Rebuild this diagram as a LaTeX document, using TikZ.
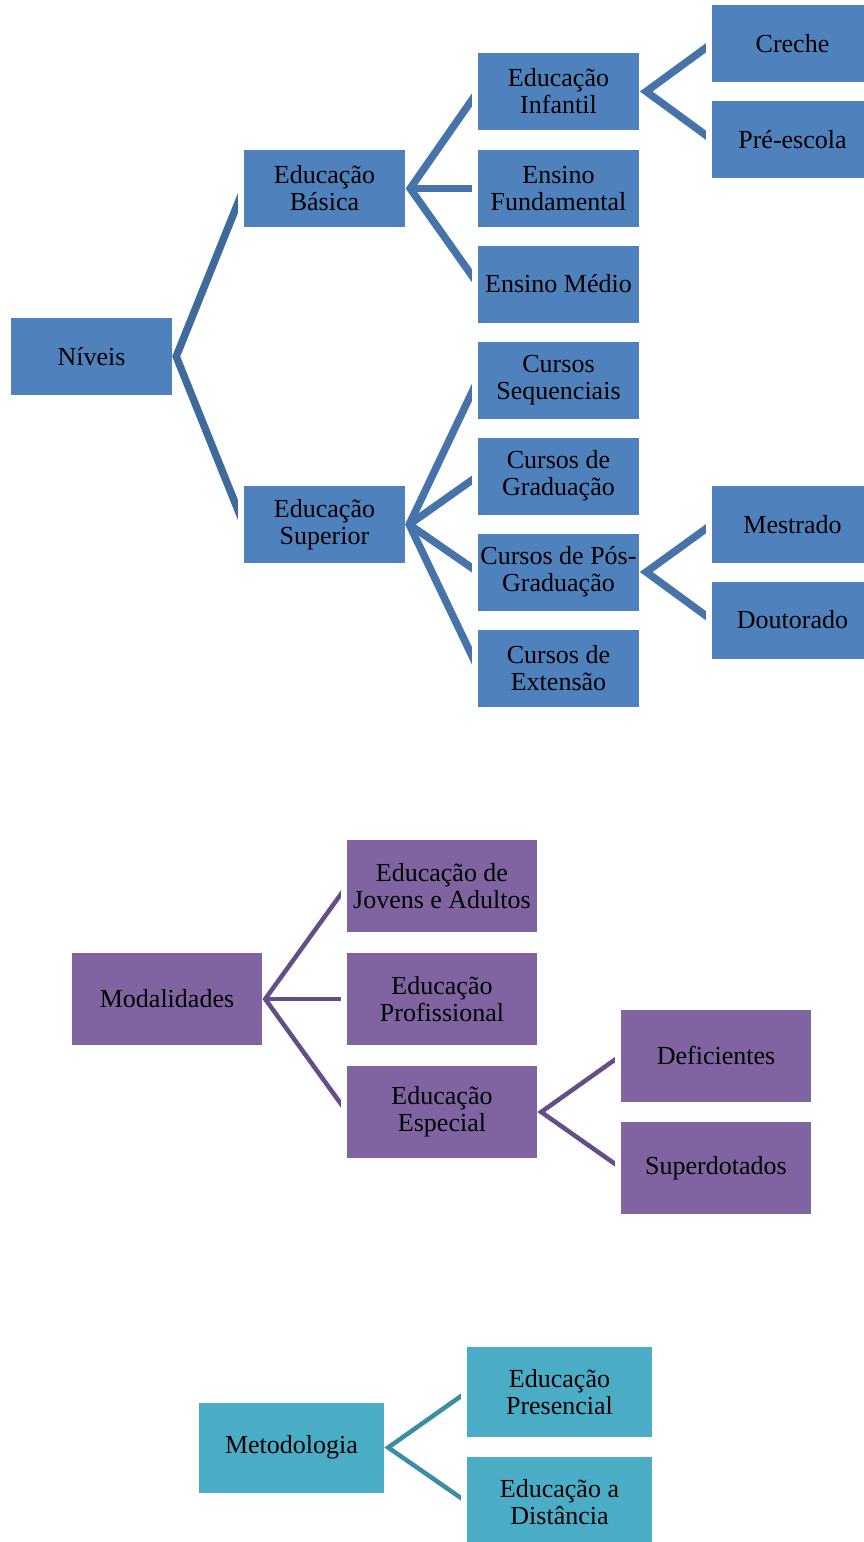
\documentclass[tikz,border=0pt]{standalone}
\usepackage{fontspec}
\setmainfont{Liberation Serif}
\usetikzlibrary{calc}
\definecolor{azul}{HTML}{4F81BD}
\definecolor{azulesc}{HTML}{4673AA}
\definecolor{azulraiz}{HTML}{3F6A9C}
\definecolor{roxo}{HTML}{8064A2}
\definecolor{roxoesc}{HTML}{654E86}
\definecolor{ciano}{HTML}{4BACC6}
\definecolor{cianoesc}{HTML}{3A8DA3}

\begin{document}
\begin{tikzpicture}[x=1pt, y=-1pt,
 caixa/.style={fill=#1, inner sep=0pt, align=center, font=\fontsize{26}{27}\selectfont},
 ramo/.style={draw=#1, line width=7.5pt, line join=miter}]
 \useasboundingbox (0,0) rectangle (864,1542);

 %Níveis
 \node [caixa=azul, minimum width=161pt, minimum height=77pt] (niv) at (91.5,356.5) {Níveis};
 \node [caixa=azul, minimum width=161pt, minimum height=77pt] (basica) at (324.5,188.5) {Educação\\Básica};
 \node [caixa=azul, minimum width=161pt, minimum height=77pt] (superior) at (324.5,524.5) {Educação\\Superior};
 \node [caixa=azul, minimum width=161pt, minimum height=77pt] (infantil) at (558.5,91.5) {Educação\\Infantil};
 \node [caixa=azul, minimum width=161pt, minimum height=77pt] (fundamental) at (558.5,188.5) {Ensino\\Fundamental};
 \node [caixa=azul, minimum width=161pt, minimum height=77pt] (medio) at (558.5,284) {Ensino Médio};
 \node [caixa=azul, minimum width=161pt, minimum height=77pt] (sequenciais) at (558.5,380) {Cursos\\Sequenciais};
 \node [caixa=azul, minimum width=161pt, minimum height=77pt] (graduacao) at (558.5,476) {Cursos de\\Graduação};
 \node [caixa=azul, minimum width=161pt, minimum height=77pt] (posgrad) at (558.5,572) {Cursos de Pós-\\Graduação};
 \node [caixa=azul, minimum width=161pt, minimum height=77pt] (extensao) at (558.5,668) {Cursos de\\Extensão};
 \node [caixa=azul, minimum width=161pt, minimum height=77pt] (creche) at (792.5,43.5) {Creche};
 \node [caixa=azul, minimum width=161pt, minimum height=77pt] (preescola) at (792.5,139.5) {Pré-escola};
 \node [caixa=azul, minimum width=161pt, minimum height=77pt] (mestrado) at (792.5,524.5) {Mestrado};
 \node [caixa=azul, minimum width=161pt, minimum height=77pt] (doutorado) at (792.5,620) {Doutorado};

 \begin{scope}
  \clip (niv.center |- 0,0) rectangle ([xshift=-6pt]basica.west |- 0,800);
  \draw [ramo=azulraiz] (basica.west) -- ([xshift=4pt]niv.east) -- (superior.west);
 \end{scope}
 \begin{scope}
  \clip (basica.center |- 0,0) rectangle ([xshift=-6pt]infantil.west |- 0,800);
  \draw [ramo=azulesc] (infantil.west) -- ([xshift=5pt]basica.east) -- (medio.west);
  \draw [ramo=azulesc] ([xshift=5pt]basica.east) -- (fundamental.west);
  \draw [ramo=azulesc] (sequenciais.west) -- ([xshift=4pt]superior.east) -- (extensao.west);
  \draw [ramo=azulesc] ([xshift=4pt]superior.east) -- (graduacao.west);
  \draw [ramo=azulesc] ([xshift=4pt]superior.east) -- (posgrad.west);
 \end{scope}
 \begin{scope}
  \clip (infantil.center |- 0,0) rectangle ([xshift=-6pt]creche.west |- 0,800);
  \draw [ramo=azulesc] (creche.west) -- ([xshift=7pt]infantil.east) -- (preescola.west);
  \draw [ramo=azulesc] (mestrado.west) -- ([xshift=7pt]posgrad.east) -- (doutorado.west);
 \end{scope}

 %Modalidades
 \node [caixa=roxo, minimum width=190pt, minimum height=92pt] (mod) at (167,999) {Modalidades};
 \node [caixa=roxo, minimum width=190pt, minimum height=92pt] (jovens) at (442,886) {Educação de\\Jovens e Adultos};
 \node [caixa=roxo, minimum width=190pt, minimum height=92pt] (profissional) at (442,999) {Educação\\Profissional};
 \node [caixa=roxo, minimum width=190pt, minimum height=92pt] (especial) at (442,1112) {Educação\\Especial};
 \node [caixa=roxo, minimum width=190pt, minimum height=92pt] (deficientes) at (716,1055.5) {Deficientes};
 \node [caixa=roxo, minimum width=190pt, minimum height=92pt] (superdotados) at (716,1168) {Superdotados};

 \begin{scope}
  \clip (mod.center |- 0,800) rectangle ([xshift=-6pt]jovens.west |- 0,1300);
  \draw [ramo=roxoesc, line width=4.5pt] (jovens.west) -- ([xshift=3pt]mod.east) -- (especial.west);
  \draw [ramo=roxoesc, line width=4.5pt] ([xshift=3pt]mod.east) -- (profissional.west);
 \end{scope}
 \begin{scope}
  \clip (especial.center |- 0,800) rectangle ([xshift=-6pt]deficientes.west |- 0,1300);
  \draw [ramo=roxoesc, line width=4.5pt] (deficientes.west) -- ([xshift=4pt]especial.east) -- (superdotados.west);
 \end{scope}

 %Metodologia
 \node [caixa=ciano, minimum width=185pt, minimum height=90pt] (met) at (291.5,1447.5) {Metodologia};
 \node [caixa=ciano, minimum width=185pt, minimum height=90pt] (presencial) at (559.5,1392) {Educação\\Presencial};
 \node [caixa=ciano, minimum width=185pt, minimum height=90pt] (distancia) at (559.5,1502) {Educação a\\Distância};

 \begin{scope}
  \clip (met.center |- 0,1300) rectangle ([xshift=-6pt]presencial.west |- 0,1542);
  \draw [ramo=cianoesc, line width=4.5pt] (presencial.west) -- ([xshift=4pt]met.east) -- (distancia.west);
 \end{scope}
\end{tikzpicture}
\end{document}
